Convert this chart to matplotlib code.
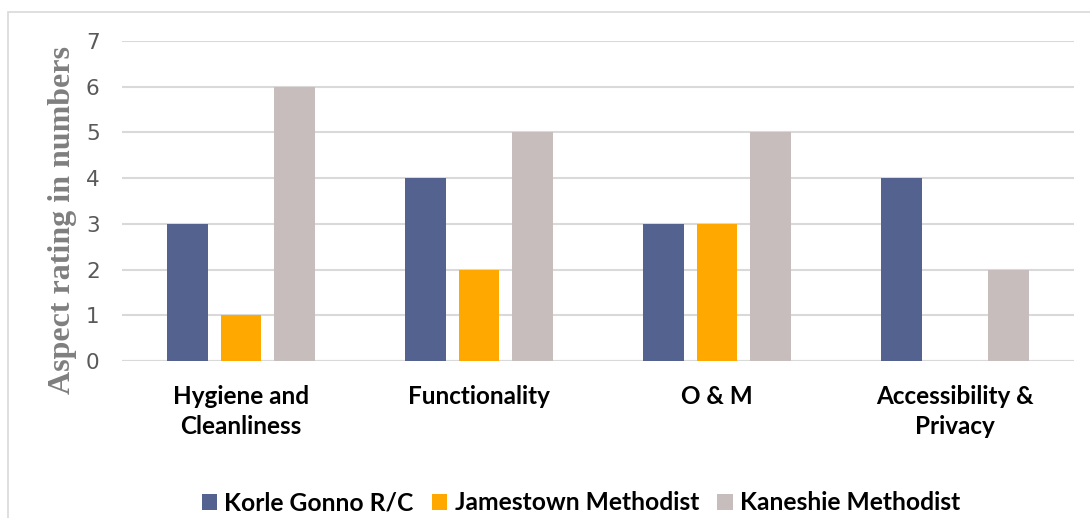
import numpy as np
import matplotlib.pyplot as plt
from matplotlib.patches import Rectangle

categories = ["Hygiene and\nCleanliness", "Functionality", "O & M", "Accessibility &\nPrivacy"]
series_names = ["Korle Gonno R/C", "Jamestown Methodist", "Kaneshie Methodist"]
korle_gonno = [3, 4, 3, 4]
jamestown = [1, 2, 3, 0]
kaneshie = [6, 5, 5, 2]
colors = ["#546290", "#FFA800", "#C7BDBD"]

BAR_W = 0.172
STEP = 0.223


def main() -> None:
    fig = plt.figure(figsize=(10.9, 5.18), dpi=100)
    ax = fig.add_axes([0.1119, 0.3031, 0.8734, 0.6177])

    # chart frame, runs off the right and bottom edges
    fig.patches.append(Rectangle((8 / 1090, -0.05), 1.1, 1 - 12 / 518 + 0.05,
                                 transform=fig.transFigure, fill=False,
                                 edgecolor="#d9d9d9", linewidth=1.2))

    x = np.arange(len(categories))
    values = [korle_gonno, jamestown, kaneshie]
    for i, (name, vals, c) in enumerate(zip(series_names, values, colors)):
        ax.bar(x + (i - 1) * STEP, vals, width=BAR_W, color=c, label=name, zorder=3)

    ax.set_xlim(-0.5, len(categories) - 0.5)
    ax.set_ylim(0, 7)
    ax.set_yticks(range(0, 8))
    ax.yaxis.grid(True, color="#d9d9d9", linewidth=1.5, zorder=0)
    ax.set_axisbelow(True)
    for s in ax.spines.values():
        s.set_visible(False)
    ax.axhline(0, color="#d9d9d9", linewidth=1.5, zorder=2)

    ax.tick_params(axis="y", length=0, pad=16, labelsize=15.5, labelcolor="#595959")
    ax.tick_params(axis="x", length=0, pad=17)
    ax.set_xticks(x)
    ax.set_xticklabels(categories, fontsize=17.5, fontweight="bold", family="Lato",
                       linespacing=1.4)

    ax.set_ylabel("Aspect rating in numbers", family="Liberation Serif", fontweight="bold",
                  fontsize=23, color="#7f7f7f")
    ax.yaxis.set_label_coords(-0.047, 0.44)

    fig.legend(loc="center", bbox_to_anchor=(0.533, 0.029), ncol=3, frameon=False,
               prop={"family": "Lato", "weight": "bold", "size": 17.7},
               handlelength=0.62, handleheight=0.62, handletextpad=0.3,
               columnspacing=0.75)

    fig.savefig("out.png", dpi=100)


if __name__ == "__main__":
    main()
